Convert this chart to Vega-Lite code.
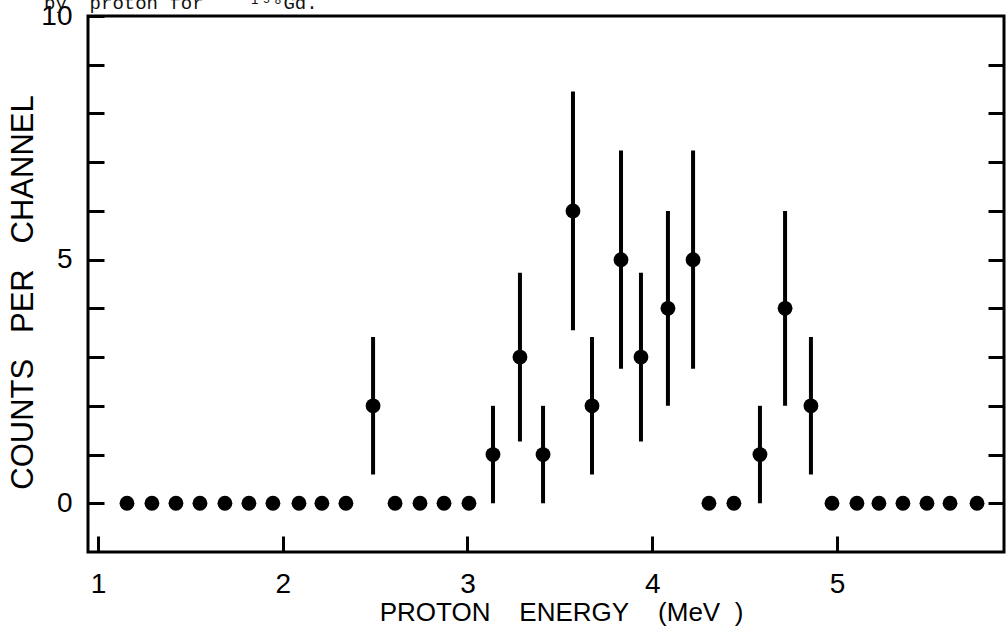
{
  "$schema": "https://vega.github.io/schema/vega-lite/v6.json",
  "width": 916,
  "height": 536,
  "autosize": {"type": "none"},
  "padding": {"left": 88, "top": 16, "right": 2, "bottom": 86},
  "background": "white",
  "title": {
    "text": "by\u00a0\u00a0proton\u00a0for\u00a0\u00a0\u00a0\u00a0¹⁵⁸Gd.",
    "orient": "top",
    "anchor": "start",
    "frame": "group",
    "font": "Liberation Mono",
    "fontSize": 19,
    "fontWeight": "normal",
    "color": "#111111",
    "baseline": "alphabetic",
    "dx": -44,
    "dy": 22,
    "offset": -4
  },
  "config": {
    "font": "Liberation Sans",
    "view": {"stroke": "black", "strokeWidth": 3},
    "axis": {
      "domain": false,
      "grid": false,
      "tickColor": "black",
      "tickWidth": 3,
      "tickSize": -16,
      "labelColor": "black",
      "labelFont": "Liberation Sans",
      "labelFontSize": 28,
      "titleColor": "black",
      "titleFont": "Liberation Sans",
      "titleFontWeight": "normal"
    }
  },
  "data": {
    "values": [
      {"e": 1.157, "n": 0}, {"e": 1.292, "n": 0}, {"e": 1.422, "n": 0},
      {"e": 1.552, "n": 0}, {"e": 1.687, "n": 0}, {"e": 1.817, "n": 0},
      {"e": 1.947, "n": 0}, {"e": 2.088, "n": 0}, {"e": 2.212, "n": 0},
      {"e": 2.342, "n": 0},
      {"e": 2.489, "n": 2, "lo": 0.59, "hi": 3.41},
      {"e": 2.608, "n": 0}, {"e": 2.743, "n": 0}, {"e": 2.873, "n": 0},
      {"e": 3.008, "n": 0},
      {"e": 3.138, "n": 1, "lo": 0, "hi": 2},
      {"e": 3.284, "n": 3, "lo": 1.27, "hi": 4.73},
      {"e": 3.409, "n": 1, "lo": 0, "hi": 2},
      {"e": 3.571, "n": 6, "lo": 3.55, "hi": 8.45},
      {"e": 3.674, "n": 2, "lo": 0.59, "hi": 3.41},
      {"e": 3.831, "n": 5, "lo": 2.76, "hi": 7.24},
      {"e": 3.939, "n": 3, "lo": 1.27, "hi": 4.73},
      {"e": 4.085, "n": 4, "lo": 2, "hi": 6},
      {"e": 4.221, "n": 5, "lo": 2.76, "hi": 7.24},
      {"e": 4.307, "n": 0}, {"e": 4.442, "n": 0},
      {"e": 4.583, "n": 1, "lo": 0, "hi": 2},
      {"e": 4.719, "n": 4, "lo": 2, "hi": 6},
      {"e": 4.859, "n": 2, "lo": 0.59, "hi": 3.41},
      {"e": 4.973, "n": 0}, {"e": 5.108, "n": 0}, {"e": 5.227, "n": 0},
      {"e": 5.357, "n": 0}, {"e": 5.487, "n": 0}, {"e": 5.612, "n": 0},
      {"e": 5.758, "n": 0}
    ]
  },
  "layer": [
    {
      "transform": [{"filter": "datum.n > 0"}],
      "mark": {"type": "rule", "color": "black", "strokeWidth": 4},
      "encoding": {
        "x": {
          "field": "e",
          "type": "quantitative",
          "scale": {"domain": [0.946, 5.904], "nice": false, "zero": false},
          "axis": {
            "values": [1, 2, 3, 4, 5],
            "format": "d",
            "labelPadding": 34,
            "title": "PROTON\u00a0\u00a0\u00a0\u00a0ENERGY\u00a0\u00a0\u00a0\u00a0(MeV\u00a0\u00a0)",
            "titleFontSize": 26,
            "titleX": 473,
            "titleY": 60,
            "titleAlign": "center",
            "titleBaseline": "middle"
          }
        },
        "y": {
          "field": "lo",
          "type": "quantitative",
          "scale": {"domain": [-1, 10], "nice": false, "zero": false},
          "axis": {
            "orient": "left",
            "values": [0, 1, 2, 3, 4, 5, 6, 7, 8, 9, 10],
            "labelExpr": "datum.value % 5 === 0 ? datum.label : ''",
            "labelPadding": 32,
            "title": "COUNTS\u00a0\u00a0\u00a0PER\u00a0\u00a0\u00a0CHANNEL",
            "titleFontSize": 31,
            "titleAngle": -90,
            "titleX": -65,
            "titleY": 276,
            "titleAlign": "center",
            "titleBaseline": "middle"
          }
        },
        "y2": {"field": "hi"}
      }
    },
    {
      "mark": {"type": "point", "filled": true, "color": "black", "opacity": 1, "size": 220, "shape": "circle"},
      "encoding": {
        "x": {"field": "e", "type": "quantitative"},
        "y": {
          "field": "n",
          "type": "quantitative",
          "axis": {
            "orient": "right",
            "values": [0, 1, 2, 3, 4, 5, 6, 7, 8, 9],
            "labels": false,
            "title": null
          }
        }
      }
    }
  ],
  "resolve": {"axis": {"y": "independent"}}
}
